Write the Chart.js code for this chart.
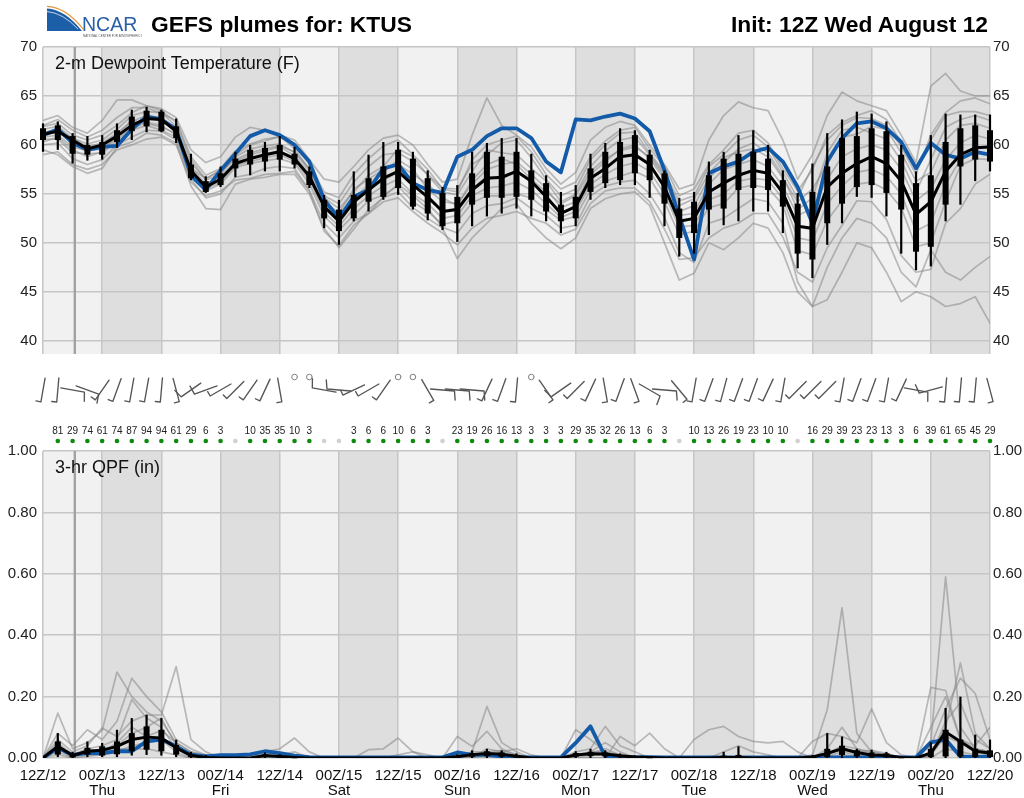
<!DOCTYPE html>
<html><head><meta charset="utf-8">
<script src="https://cdn.jsdelivr.net/npm/chart.js@4.4.1/dist/chart.umd.min.js"></script>
<style>
html,body{margin:0;padding:0;background:#fff;width:1024px;height:798px;overflow:hidden;font-family:'Liberation Sans',Arial,sans-serif;}
canvas{position:absolute;left:0;}
#c1{top:0;}
#c2{top:360px;}
.t{position:absolute;white-space:nowrap;color:#000;line-height:20px;}
#title{left:151px;top:11px;font-weight:bold;font-size:22.8px;line-height:26px;}
#init{right:36px;top:11px;font-weight:bold;font-size:22.8px;line-height:26px;}
#lab1{left:55px;top:53px;font-size:18px;color:#111;}
#lab2{left:55px;top:457px;font-size:18px;color:#111;}
#logo{position:absolute;left:46px;top:5px;}
</style></head><body>
<canvas id="c1" width="1024" height="360" style="width:1024px;height:360px"></canvas>
<canvas id="c2" width="1024" height="438" style="width:1024px;height:438px"></canvas>
<svg id="logo" width="96" height="34" viewBox="0 0 96 34">
  <path d="M1,3.5 Q19,4.5 36,26 L1,26 Z" fill="#1c5fa8"/>
  <path d="M1,1.3 Q20,2 37.5,24.5" fill="none" stroke="#e9963a" stroke-width="1.2"/>
  <path d="M1,6.5 Q17,8 32,24" fill="none" stroke="#ffffff" stroke-width="0.9" opacity="0.8"/>
  <text x="36" y="26" font-family="Liberation Sans, Arial, sans-serif" font-size="19.5" fill="#2a5fa5">NCAR</text>
  <text x="37" y="31.5" font-family="Liberation Sans, Arial, sans-serif" font-size="3" fill="#555">NATIONAL CENTER FOR ATMOSPHERIC RESEARCH</text>
</svg>
<div class="t" id="title">GEFS plumes for: KTUS</div>
<div class="t" id="init">Init: 12Z Wed August 12</div>
<div class="t" id="lab1">2-m Dewpoint Temperature (F)</div>
<div class="t" id="lab2">3-hr QPF (in)</div>
<script>
// ---------- axis / category data ----------
const xLabels = ['12Z/12',['00Z/13','Thu'],'12Z/13',['00Z/14','Fri'],'12Z/14',['00Z/15','Sat'],'12Z/15',['00Z/16','Sun'],'12Z/16',['00Z/17','Mon'],'12Z/17',['00Z/18','Tue'],'12Z/18',['00Z/19','Wed'],'12Z/19',['00Z/20','Thu'],'12Z/20'];
const xTickIdx = [0,4,8,12,16,20,24,28,32,36,40,44,48,52,56,60,64];
const nightStarts = [4,12,20,28,36,44,52,60]; // 00Z-12Z blocks (4 steps each)
const nowIndex = 2.15;
const dewTicks = [40,45,50,55,60,65,70];
const qpfTicks = [0,0.2,0.4,0.6,0.8,1.0];

// ---------- 2-m dewpoint (F), 3-hourly, 65 times ----------
const dMin = [59.3,59.5,58.1,58.4,58.5,59.7,60.5,61.3,61.3,60.2, 56.4,55.1,55.7,56.7,56.9,57.3,57.3,57.6,55.6,51.5, 49.8,52.2,53.2,54.4,54.9,53.4,52.3,51.3,50.1,51.7, 52.7,53.0,53.5,52.7,52.2,51.0,51.7,54.4,55.6,55.9, 55.9,54.6,51.7,48.6,48.9,50.8,51.8,52.2,53.2,53.2, 51.0,47.4,46.4,49.8,52.0,54.7,54.6,52.7,48.9,47.2, 47.6,52.2,53.9,56.3,57.3];
const dQ1 = [60.5,60.5,59.1,59.0,59.0,60.3,61.4,61.9,61.4,60.7, 56.6,55.2,55.9,57.6,58.0,58.3,58.5,58.0,55.9,52.5, 51.2,52.5,54.2,54.7,55.6,53.7,53.0,51.7,52.0,53.9, 54.6,54.6,54.7,54.4,53.2,52.2,52.5,55.2,56.1,56.4, 57.1,56.4,54.0,50.5,51.0,53.4,53.5,55.4,55.6,55.4, 53.7,48.9,48.3,52.0,54.0,55.7,55.9,55.1,53.4,49.1, 49.6,53.9,57.8,58.5,58.3];
const dMed = [61.1,61.4,60.5,59.6,60.0,60.9,62.0,62.7,62.6,61.4, 57.4,55.7,56.5,58.1,58.6,59.0,59.3,58.6,56.8,53.7, 52.2,54.2,55.4,56.6,57.3,55.9,54.7,53.2,53.4,55.4, 56.6,56.7,57.3,56.3,54.7,53.0,53.7,56.6,57.6,58.8, 59.0,58.0,55.7,52.2,52.5,55.2,56.1,56.9,57.4,57.1, 55.1,51.7,51.5,55.7,57.1,58.1,58.8,58.1,56.3,52.9, 54.2,57.3,59.0,59.7,59.8];
const dQ3 = [61.7,62.0,60.9,60.0,60.3,61.5,62.9,63.5,63.4,61.9, 58.0,56.3,57.1,58.6,59.5,59.7,60.0,59.1,57.3,54.4, 53.4,54.9,56.6,57.8,59.5,58.6,56.6,55.1,54.7,57.1, 59.3,58.8,59.3,57.4,56.1,53.9,54.7,57.6,59.3,60.3, 61.0,59.0,57.1,53.5,54.2,56.9,58.6,59.1,59.3,58.6, 56.4,54.0,55.2,57.8,60.7,60.9,61.7,61.4,59.0,56.1, 56.9,60.3,61.7,62.0,61.5];
const dMax = [62.2,62.4,61.2,60.9,61.0,62.2,63.6,63.9,63.6,62.7, 59.1,56.8,57.8,59.3,60.0,60.3,60.9,59.8,57.8,54.9, 54.4,57.3,59.0,60.3,60.3,59.3,57.4,55.7,55.9,59.3, 60.2,60.7,60.7,59.1,56.9,55.2,55.9,59.1,60.2,61.7, 61.5,59.5,57.4,54.6,55.2,58.3,59.3,61.0,61.5,60.0, 57.4,55.1,58.1,61.2,62.6,63.4,63.2,62.4,60.0,57.3, 61.0,63.2,63.1,63.1,63.1];
const dBlue = [61.0,61.6,60.2,59.5,59.8,59.9,61.6,62.9,62.6,61.6, 56.9,55.4,57.4,59.1,60.9,61.5,61.0,60.0,58.3,54.4, 52.5,54.7,55.4,57.6,58.0,56.1,55.4,55.1,58.8,59.5, 60.9,61.7,61.7,60.7,58.3,57.2,62.6,62.5,62.9,63.2, 62.7,61.4,57.4,52.7,48.3,57.1,57.8,58.3,59.3,59.7, 58.3,55.7,52.0,58.3,60.7,62.2,62.4,61.7,60.3,57.6, 60.2,59.0,58.6,59.3,59.0];

// ensemble members (dewpoint)
const dm1 = [62.0,62.6,61.5,60.8,61.5,62.8,63.8,63.8,63.2,62.5, 58.8,56.9,57.6,59.4,60.1,60.6,60.8,60.0,58.0,55.2, 54.6,57.0,58.6,59.9,60.5,59.0,57.5,55.5,55.2,58.5, 60.0,60.5,60.9,59.3,57.0,55.5,56.2,58.8,60.4,61.5, 61.8,59.6,57.8,54.8,55.5,58.0,59.5,61.2,61.5,60.2, 57.6,55.3,57.5,61.0,62.3,63.0,63.5,62.6,60.3,57.6, 60.5,63.0,63.4,63.4,63.0];
const dm2 = [59.0,59.3,58.0,57.5,58.0,59.5,60.0,60.6,60.8,60.0, 56.2,54.8,55.3,56.4,56.6,57.0,57.1,57.3,55.3,51.2, 49.7,51.8,53.0,54.2,54.6,53.2,52.0,51.0,49.8,51.5, 52.5,52.8,53.2,52.5,52.0,50.8,51.4,54.0,55.3,55.6, 55.6,54.2,51.4,48.3,48.5,50.5,51.5,52.0,53.0,53.0, 50.6,47.0,46.0,49.5,51.8,54.3,54.2,52.4,48.7,47.0, 47.3,52.0,53.5,56.0,57.0];
const dm3 = [61.6,61.9,60.7,60.1,60.5,61.6,63.0,63.4,63.3,61.9, 58.2,56.4,57.0,58.8,59.6,59.9,60.1,59.2,57.4,54.6, 53.5,55.2,56.9,57.8,59.6,58.8,56.9,55.2,54.9,57.3, 59.5,59.2,59.0,57.6,56.3,54.2,55.0,57.8,59.4,60.5, 60.8,59.0,57.0,53.8,54.5,57.1,58.7,59.3,59.6,58.8, 56.6,54.2,55.5,58.0,60.8,61.1,61.9,61.6,59.2,56.3, 57.2,60.5,62.0,62.2,61.7];
const dm4 = [61.3,61.5,60.7,59.8,60.2,61.2,62.4,63.0,62.8,61.7, 57.8,56.0,56.8,58.3,59.0,59.4,59.8,58.9,57.1,54.0, 52.8,54.6,55.9,57.2,58.5,57.5,55.5,54.2,54.0,56.0, 57.5,58.0,58.3,57.0,55.6,53.6,54.2,57.0,58.3,59.6, 60.0,58.6,56.5,52.8,53.0,56.0,57.5,58.0,58.5,57.8, 55.8,52.8,53.5,56.5,58.8,59.6,60.0,59.5,57.5,54.3, 55.5,58.5,60.2,61.0,60.6];
const dm5 = [60.6,60.6,59.2,59.1,59.2,60.4,61.5,62.0,61.5,60.8, 56.7,55.3,56.0,57.7,58.1,58.4,58.6,58.1,56.0,52.7, 51.3,52.8,54.3,54.9,55.8,54.2,53.2,51.9,52.2,54.1, 54.8,54.8,55.0,54.6,53.4,52.3,52.7,55.4,56.3,56.8, 57.3,56.6,54.2,50.8,51.2,53.6,54.0,55.6,55.9,55.6, 53.9,49.2,48.8,52.3,54.3,56.0,56.2,55.4,53.6,49.6, 50.0,54.2,57.9,58.6,58.5];
const dm6 = [60.8,61.0,59.8,59.4,59.6,60.6,61.7,62.3,62.0,61.0, 57.0,55.5,56.2,57.9,58.3,58.7,59.0,58.3,56.4,53.1, 51.7,53.5,54.8,55.8,56.5,55.0,54.0,52.5,52.8,54.8, 55.6,55.8,56.2,55.4,54.0,52.6,53.2,56.0,57.0,57.8, 58.2,57.3,55.0,51.6,51.8,54.4,55.0,56.3,56.6,56.4, 54.5,50.5,50.2,54.0,55.8,57.2,57.5,56.8,55.0,51.2, 52.0,56.0,58.5,59.2,59.1];
const dm7 = [61.1,61.3,60.4,59.7,60.0,60.9,62.1,62.6,62.6,61.3, 57.3,55.8,56.6,58.0,58.7,59.1,59.4,58.6,56.7,53.8, 52.4,54.0,55.5,56.4,57.2,56.0,54.5,53.3,53.5,55.5, 56.8,56.5,57.4,56.2,54.8,53.0,53.8,56.6,57.5,58.8, 59.1,58.1,55.6,52.3,52.4,55.2,56.2,56.8,57.5,57.0, 55.0,51.7,51.3,55.8,57.2,58.0,58.8,58.2,56.2,52.8, 54.0,57.4,59.0,59.7,59.9];
const dm8 = [62.5,63.0,61.8,61.2,62.5,64.6,64.6,64.0,63.7,62.8, 59.5,58.2,58.8,60.8,61.8,61.5,61.0,60.5,58.5,56.5, 56.2,57.8,59.5,60.7,61.0,60.0,58.0,56.2,56.5,61.0, 64.8,62.0,61.0,59.8,57.6,56.0,57.2,60.5,61.8,62.4, 62.0,60.0,58.0,55.5,56.0,60.5,63.0,64.4,63.8,63.5, 60.5,56.5,59.0,63.0,65.4,64.5,64.0,63.5,61.0,58.2, 66.0,67.3,65.5,65.0,65.0];
const dm9 = [59.5,59.0,57.8,57.1,57.6,59.8,60.3,61.2,61.0,60.2, 55.8,53.5,53.4,56.0,56.5,56.7,57.0,57.0,55.0,51.5, 49.5,51.4,53.4,54.6,55.2,53.6,52.5,51.5,48.4,50.5, 52.0,53.5,54.0,52.0,50.5,49.4,50.5,53.5,54.5,55.0, 55.2,53.8,50.0,46.2,46.9,50.0,49.3,50.5,52.0,51.5, 49.0,45.0,43.5,44.2,47.0,50.0,49.5,47.0,44.0,45.0, 44.5,43.5,43.8,44.5,41.8];
const dm10 = [60.0,60.2,58.6,58.0,58.5,60.0,60.8,61.5,61.4,60.5, 56.5,54.6,55.0,56.7,57.0,57.6,57.8,57.6,55.4,52.0, 50.5,52.2,53.0,54.7,56.0,54.8,53.5,51.6,51.0,53.0, 53.8,54.0,54.6,53.5,52.8,51.5,51.8,54.8,55.8,56.2, 56.4,55.0,52.6,49.0,48.0,52.0,52.5,53.5,54.5,54.2, 52.0,46.0,43.5,47.5,50.5,52.5,52.0,50.5,47.0,45.5, 49.3,47.0,46.2,47.5,48.6];
const dm11 = [61.9,62.2,61.0,60.5,61.0,62.0,63.3,64.0,63.5,62.3, 58.5,56.5,57.5,59.0,60.0,60.4,60.9,59.6,57.5,54.8, 54.0,56.2,57.8,59.0,59.2,58.3,57.0,55.6,55.5,58.0, 59.0,60.2,60.5,58.7,56.5,54.8,55.5,58.5,60.0,61.2, 61.3,59.2,57.2,54.3,54.8,57.8,59.0,60.5,61.0,59.8, 57.2,54.6,57.8,60.5,62.0,62.8,62.7,62.0,59.8,57.0, 61.0,63.3,64.5,64.8,64.2];
const dm12 = [60.3,60.8,59.5,58.8,59.3,61.0,62.5,62.2,61.8,61.2, 57.6,56.6,57.3,58.5,59.2,59.6,59.9,59.3,57.6,54.3, 53.0,55.5,56.5,57.5,58.0,57.0,56.0,54.6,53.8,56.4, 58.0,58.6,58.0,56.5,55.2,54.0,54.8,57.3,58.6,59.4, 59.8,58.8,56.8,53.2,53.8,56.6,58.2,59.6,60.2,59.2, 56.8,53.4,54.6,59.2,61.5,61.8,61.2,60.6,58.4,55.2, 58.5,61.8,62.6,63.0,62.5];
const dewMembers = [dm1,dm2,dm3,dm4,dm5,dm6,dm7,dm8,dm9,dm10,dm11,dm12];

// ---------- wind (barbs), 65 times ----------
const windDir = [190,185,100,110,215,200,190,190,185,165, 235,250,240,225,215,205,170,null,null,280, 275,245,240,215,null,null,150,95,95,95, 205,200,185,null,145,235,225,205,170,200, 160,120,95,140,190,200,195,200,200,205, 190,225,225,225,190,200,200,190,205,100, 255,185,185,185,165];
const windSpd = [5,5,10,10,5,5,5,5,5,5, 10,10,5,5,5,5,5,0,0,10, 10,5,5,5,0,0,5,10,10,10, 5,5,5,0,5,10,5,5,5,5, 5,10,10,5,5,5,5,5,5,5, 5,5,5,5,5,5,5,5,5,10, 10,5,5,5,5];

// ---------- probability of precip (%), steps 1..64 ----------
const pop = [81,29,74,61,74,87,94,94,61,29,6,3,null,10,35,35,10,3,null,null,3,6,6,10,6,3,null,23,19,26,16,13,3,3,3,29,35,32,26,13,6,3,null,10,13,26,19,23,10,10,null,16,29,39,23,23,13,3,6,39,61,65,45,29];

// ---------- 3-hr QPF (in), 65 times ----------
const qMin = [0,0.003,0,0.003,0.003,0.003,0.008,0.010,0.008,0.003, 0,0,0,0,0,0,0,0,0,0, 0,0,0,0,0,0,0,0,0,0, 0,0,0,0,0,0,0,0,0,0, 0,0,0,0,0,0,0,0,0,0, 0,0,0,0,0,0,0,0,0,0, 0,0,0,0,0];
const qQ1 = [0,0.011,0.002,0.011,0.008,0.012,0.022,0.027,0.022,0.011, 0.003,0,0,0,0,0.003,0.002,0,0,0, 0,0,0,0,0,0,0,0,0.001,0.004, 0.006,0.004,0.002,0,0,0,0.004,0.006,0.005,0.002, 0,0,0,0,0,0,0.001,0,0,0, 0,0,0,0.003,0.010,0.005,0.002,0.002,0,0, 0.003,0.005,0.005,0.003,0.003];
const qMed = [0,0.038,0.008,0.022,0.025,0.038,0.060,0.068,0.065,0.033, 0.008,0.002,0,0,0,0.008,0.005,0.002,0,0, 0,0,0,0,0,0,0,0,0.004,0.011, 0.015,0.012,0.006,0,0,0,0.010,0.014,0.013,0.007, 0.003,0.002,0,0,0,0,0.002,0.002,0,0, 0,0,0.003,0.015,0.030,0.018,0.010,0.008,0.002,0, 0.016,0.085,0.054,0.022,0.016];
const qQ3 = [0,0.054,0.012,0.033,0.038,0.054,0.081,0.103,0.092,0.043, 0.012,0.005,0,0,0,0.012,0.008,0.004,0,0, 0,0,0,0,0,0,0,0,0.008,0.016, 0.022,0.018,0.010,0,0,0,0.016,0.020,0.018,0.010, 0.005,0.004,0,0,0,0,0.008,0.010,0,0, 0,0,0.006,0.030,0.040,0.025,0.018,0.015,0.004,0, 0.030,0.092,0.060,0.030,0.025];
const qMax = [0,0.081,0.020,0.054,0.049,0.092,0.130,0.141,0.130,0.060, 0.020,0.010,0,0,0,0.018,0.012,0.006,0,0, 0,0,0,0,0,0,0,0,0.012,0.025, 0.030,0.025,0.015,0,0,0,0.022,0.030,0.025,0.015, 0.008,0.006,0,0,0,0,0.020,0.038,0,0, 0,0,0.010,0.081,0.070,0.030,0.027,0.020,0.006,0, 0.051,0.163,0.200,0.076,0.060];
const qBlue = [0,0.033,0.010,0.016,0.016,0.022,0.022,0.054,0.060,0.038, 0.011,0.005,0.009,0.009,0.012,0.022,0.016,0.008,0.003,0.002, 0.002,0.002,0.002,0.002,0.002,0.002,0.002,0.002,0.018,0.010, 0.010,0.005,0.003,0.002,0.002,0.002,0.049,0.103,0.005,0.003, 0.003,0.003,0.002,0.002,0.002,0.002,0.002,0.002,0.002,0.002, 0.002,0.002,0.002,0.002,0.002,0.002,0.002,0.002,0.002,0.002, 0.051,0.060,0.005,0.003,0.005];

// ensemble members (QPF)
const qm1 = [0,0.146,0.03,0.05,0.09,0.28,0.2,0.15,0.12,0.05, 0.02,0.01,0,0,0,0,0.01,0.02,0,0, 0,0,0,0,0.01,0.02,0.01,0,0,0.02, 0.168,0.05,0.02,0,0,0,0.02,0.03,0.103,0.04, 0.02,0,0,0,0,0,0,0,0,0, 0,0,0.01,0.157,0.49,0.08,0.02,0.01,0,0, 0.05,0.59,0.1,0.03,0.02];
const qm2 = [0,0.08,0.04,0.092,0.06,0.12,0.26,0.2,0.15,0.06, 0.03,0.01,0,0,0.01,0.02,0.03,0.065,0.02,0, 0,0,0,0,0,0,0,0,0.07,0.038, 0.087,0.03,0.01,0,0,0,0.092,0.06,0.02,0.01, 0,0,0,0,0.06,0.092,0.103,0.07,0.054,0.049, 0.054,0.02,0,0,0,0,0,0,0,0, 0.23,0.22,0.06,0.03,0.02];
const qm3 = [0,0.06,0.02,0.04,0.098,0.07,0.12,0.14,0.14,0.298, 0.06,0.02,0,0,0,0,0,0,0,0, 0,0,0.027,0.03,0.065,0.02,0,0,0,0, 0.03,0.02,0.03,0.01,0,0,0,0,0,0.07, 0.04,0.081,0.03,0,0,0,0,0,0,0, 0,0,0.054,0.08,0.07,0.05,0.16,0.05,0.01,0, 0.02,0.1,0.31,0.08,0.03];
const qm4 = [0,0.05,0.01,0.03,0.04,0.06,0.19,0.13,0.1,0.03, 0.01,0,0,0,0,0.02,0.01,0,0,0, 0,0,0,0,0,0,0,0,0,0.02, 0.02,0.01,0,0,0,0,0.01,0.02,0.05,0.02, 0,0,0,0,0,0,0,0,0,0, 0,0,0,0.03,0.1,0.03,0.01,0,0,0, 0.04,0.16,0.26,0.21,0.06];
const qm5 = [0,0.03,0,0.02,0.03,0.04,0.08,0.1,0.13,0.04, 0.01,0,0,0,0,0,0,0,0,0, 0,0,0,0,0,0,0,0,0.01,0, 0.01,0.02,0,0,0,0,0.01,0.015,0.03,0.01, 0,0,0,0,0,0,0.02,0.04,0.02,0.01, 0,0,0,0.01,0.03,0.02,0.025,0.015,0,0, 0.1,0.2,0.06,0.04,0.1];
const qm6 = [0,0.01,0,0.01,0.01,0.02,0.04,0.05,0.06,0.02, 0,0,0,0,0,0.01,0,0,0,0, 0,0,0,0,0,0,0,0,0,0.01, 0.015,0.01,0.005,0,0,0,0,0.01,0.01,0, 0,0,0,0,0,0,0,0,0,0, 0,0,0,0.005,0.02,0.01,0.005,0.005,0,0, 0.01,0.07,0.05,0.02,0.01];
const qm7 = [0,0.04,0.01,0.03,0.02,0.05,0.1,0.07,0.09,0.05, 0.02,0.005,0,0,0,0,0,0,0,0, 0,0,0,0,0,0,0,0,0,0, 0.02,0.025,0.01,0,0,0,0.005,0.02,0.02,0.005, 0,0,0,0,0,0,0,0,0,0, 0,0,0,0.015,0.04,0.03,0.02,0.01,0,0, 0.005,0.12,0.18,0.06,0.03];
const qm8 = [0,0.02,0,0.005,0.01,0.03,0.03,0.03,0.02,0.01, 0,0,0,0,0,0,0,0,0,0, 0,0,0,0,0,0,0,0,0,0, 0,0,0,0,0,0,0,0,0,0, 0,0,0,0,0,0,0,0,0,0, 0,0,0,0,0.01,0.005,0,0,0,0, 0,0.03,0.02,0.01,0.005];
const qpfMembers = [qm1,qm2,qm3,qm4,qm5,qm6,qm7,qm8];

// ---------- styling ----------
const lightBg = '#f1f1f1', darkBg = '#dedede', gridColor = '#c6c6c6';
const memberColor = 'rgba(135,135,135,0.55)', blueColor = '#135ba8';
Chart.defaults.font.family = "'Liberation Sans', Arial, sans-serif";
Chart.defaults.font.size = 15;
Chart.defaults.color = '#222';

const toXY = arr => arr.map((v,i)=>({x:i,y:v}));

function bandsPlugin(){
  return {
    id:'bands',
    beforeDraw(chart){
      const {ctx, chartArea:a, scales:{x}} = chart;
      ctx.save();
      ctx.fillStyle = lightBg;
      ctx.fillRect(a.left,a.top,a.right-a.left,a.bottom-a.top);
      ctx.fillStyle = darkBg;
      nightStarts.forEach(s=>{
        const x0 = x.getPixelForValue(s), x1 = x.getPixelForValue(s+4);
        ctx.fillRect(x0,a.top,x1-x0,a.bottom-a.top);
      });
      ctx.restore();
    },
    beforeDatasetsDraw(chart){
      const {ctx, chartArea:a, scales:{x}} = chart;
      const px = x.getPixelForValue(nowIndex);
      ctx.save();
      ctx.strokeStyle = '#a2a2a2'; ctx.lineWidth = 2.4;
      ctx.beginPath(); ctx.moveTo(px,a.top); ctx.lineTo(px,a.bottom); ctx.stroke();
      ctx.restore();
    }
  };
}

function boxPlugin(lo,q1,q3,hi,skipZero){
  return {
    id:'boxes',
    afterDatasetsDraw(chart){
      const {ctx, chartArea:a, scales:{x,y}} = chart;
      ctx.save();
      ctx.beginPath(); ctx.rect(a.left-4,a.top,a.right-a.left+8,a.bottom-a.top+1); ctx.clip();
      ctx.fillStyle = '#000'; ctx.strokeStyle = '#000';
      for(let i=0;i<hi.length;i++){
        if(skipZero && hi[i] <= 0) continue;
        const px = x.getPixelForValue(i);
        ctx.lineWidth = 2.2;
        ctx.beginPath();
        ctx.moveTo(px, y.getPixelForValue(lo[i]));
        ctx.lineTo(px, y.getPixelForValue(hi[i]));
        ctx.stroke();
        const yt = y.getPixelForValue(q3[i]), yb = y.getPixelForValue(q1[i]);
        ctx.fillRect(px-3, yt, 6, Math.max(yb-yt, 1.5));
      }
      ctx.restore();
    }
  };
}

function drawBarb(ctx,cx,cy,dir,spd){
  const r = dir*Math.PI/180, vx = Math.sin(r), vy = -Math.cos(r);
  const L = 24;
  const x0 = cx - vx*L/2, y0 = cy - vy*L/2, x1 = cx + vx*L/2, y1 = cy + vy*L/2;
  const fx = -vy, fy = vx;
  ctx.beginPath();
  ctx.moveTo(x0,y0); ctx.lineTo(x1,y1);
  let rem = spd, pos = 0;
  while(rem >= 10){
    const bx = x1 - vx*pos, by = y1 - vy*pos;
    ctx.moveTo(bx,by); ctx.lineTo(bx + fx*9 + vx*1.5, by + fy*9 + vy*1.5);
    rem -= 10; pos += 3;
  }
  if(rem >= 5){
    const bx = x1 - vx*pos, by = y1 - vy*pos;
    ctx.moveTo(bx,by); ctx.lineTo(bx + fx*5, by + fy*5);
  }
  ctx.stroke();
}

function stripPlugin(){
  return {
    id:'strip',
    afterDraw(chart){
      const {ctx, scales:{x}} = chart;
      ctx.save();
      ctx.strokeStyle = '#555'; ctx.lineWidth = 1.35; ctx.lineCap = 'round';
      for(let i=0;i<windDir.length;i++){
        const px = x.getPixelForValue(i);
        if(windDir[i] === null || windSpd[i] === 0){
          ctx.beginPath(); ctx.arc(px, 17, 2.8, 0, Math.PI*2);
          ctx.strokeStyle = '#808080'; ctx.lineWidth = 1; ctx.stroke();
          ctx.strokeStyle = '#555'; ctx.lineWidth = 1.35;
        } else {
          drawBarb(ctx, px, 30, windDir[i], windSpd[i]);
        }
      }
      ctx.font = "10px 'Liberation Sans Narrow','Arial Narrow','Liberation Sans',sans-serif";
      ctx.textAlign = 'center'; ctx.textBaseline = 'middle';
      for(let k=0;k<pop.length;k++){
        const px = x.getPixelForValue(k+1);
        const v = pop[k];
        if(v !== null){
          ctx.fillStyle = '#222';
          ctx.fillText(String(v), px, 71.5);
        }
        ctx.beginPath(); ctx.arc(px, 81, 2.3, 0, Math.PI*2);
        ctx.fillStyle = v !== null ? '#0b8a0b' : '#d0d0d0';
        ctx.fill();
      }
      ctx.restore();
    }
  };
}

function xScale(showLabels){
  return {
    type:'linear', min:0, max:64,
    afterBuildTicks: s => { s.ticks = xTickIdx.map(v=>({value:v})); },
    grid:{color:gridColor, lineWidth:1.5, drawTicks:false},
    border:{display:false},
    ticks:{display:showLabels, padding:11, maxRotation:0, autoSkip:false,
      callback:(v)=> xLabels[Math.round(v/4)], color:'#111', font:{size:15, lineHeight:0.95}},
    afterFit: s => { s.height = showLabels ? 40 : 0; s.paddingLeft = 0; s.paddingRight = 0; }
  };
}
function yScales(min,max,ticks,fmt){
  return {
    y:{type:'linear', position:'left', min, max,
      afterBuildTicks: s => { s.ticks = ticks.map(v=>({value:v})); },
      grid:{color:gridColor, lineWidth:1.5, drawTicks:false}, border:{display:false},
      ticks:{padding:6, color:'#222', callback:fmt},
      afterFit: s => { s.width = 43; s.paddingTop = 0; s.paddingBottom = 0; }},
    yR:{type:'linear', position:'right', min, max,
      afterBuildTicks: s => { s.ticks = ticks.map(v=>({value:v})); },
      grid:{display:false, drawTicks:false}, border:{display:false},
      ticks:{padding:3, color:'#222', callback:fmt},
      afterFit: s => { s.width = 34; s.paddingTop = 0; s.paddingBottom = 0; }}
  };
}

function datasets(members, blue, med){
  const ds = members.map(m=>({data:toXY(m), borderColor:memberColor, borderWidth:1.7, pointRadius:0, order:10, yAxisID:'y'}));
  ds.push({data:toXY(blue), borderColor:blueColor, borderWidth:3.8, pointRadius:0, order:5, yAxisID:'y'});
  ds.push({data:toXY(med), borderColor:'#000', borderWidth:3, pointRadius:0, order:1, yAxisID:'y'});
  return ds;
}

const common = {responsive:false, animation:false, events:[],
  plugins:{legend:{display:false}, tooltip:{enabled:false}},
  elements:{line:{tension:0, borderJoinStyle:'round', borderCapStyle:'round'}}};

new Chart(document.getElementById('c1'), {
  type:'line',
  data:{datasets:datasets(dewMembers, dBlue, dMed)},
  options:Object.assign({}, common, {
    layout:{padding:{top:47, bottom:6, left:0, right:0}},
    scales:Object.assign({x:xScale(false)}, yScales(38.65,70,dewTicks,(v)=>String(v)))
  }),
  plugins:[bandsPlugin(), boxPlugin(dMin,dQ1,dQ3,dMax,false)]
});

new Chart(document.getElementById('c2'), {
  type:'line',
  data:{datasets:datasets(qpfMembers, qBlue, qMed)},
  options:Object.assign({}, common, {
    layout:{padding:{top:91, bottom:0, left:0, right:0}},
    scales:Object.assign({x:xScale(true)}, yScales(0,1,qpfTicks,(v)=>Number(v).toFixed(2)))
  }),
  plugins:[bandsPlugin(), boxPlugin(qMin,qQ1,qQ3,qMax,true), stripPlugin()]
});
</script>
</body></html>
